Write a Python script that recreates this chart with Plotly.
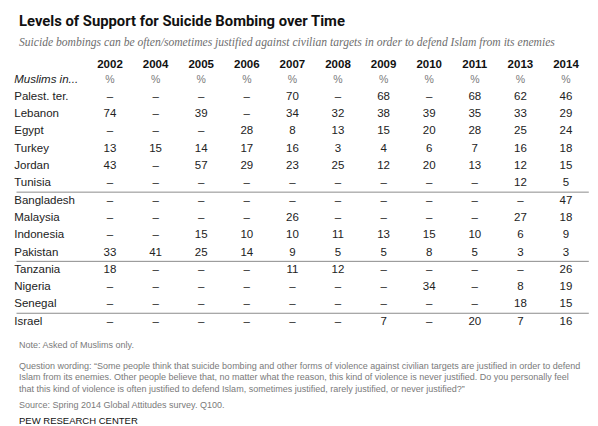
import plotly.graph_objects as go

# Table values ("None" = not asked that year)
years = ["2002", "2004", "2005", "2006", "2007", "2008", "2009", "2010", "2011", "2013", "2014"]
countries = [
    "Palest. ter.", "Lebanon", "Egypt", "Turkey", "Jordan", "Tunisia",
    "Bangladesh", "Malaysia", "Indonesia", "Pakistan",
    "Tanzania", "Nigeria", "Senegal", "Israel",
]
palest_ter = [None, None, None, None, 70, None, 68, None, 68, 62, 46]
lebanon = [74, None, 39, None, 34, 32, 38, 39, 35, 33, 29]
egypt = [None, None, None, 28, 8, 13, 15, 20, 28, 25, 24]
turkey = [13, 15, 14, 17, 16, 3, 4, 6, 7, 16, 18]
jordan = [43, None, 57, 29, 23, 25, 12, 20, 13, 12, 15]
tunisia = [None, None, None, None, None, None, None, None, None, 12, 5]
bangladesh = [None, None, None, None, None, None, None, None, None, None, 47]
malaysia = [None, None, None, None, 26, None, None, None, None, 27, 18]
indonesia = [None, None, 15, 10, 10, 11, 13, 15, 10, 6, 9]
pakistan = [33, 41, 25, 14, 9, 5, 5, 8, 5, 3, 3]
tanzania = [18, None, None, None, 11, 12, None, None, None, None, 26]
nigeria = [None, None, None, None, None, None, None, 34, None, 8, 19]
senegal = [None, None, None, None, None, None, None, None, None, 18, 15]
israel = [None, None, None, None, None, None, 7, None, 20, 7, 16]

rows = [palest_ter, lebanon, egypt, turkey, jordan, tunisia, bangladesh,
        malaysia, indonesia, pakistan, tanzania, nigeria, senegal, israel]
group_breaks = [5.5, 9.5, 12.5]  # lines between country groups

W, H = 598, 426
BODY = "Liberation Sans"
DARK = "#222222"
GREY = "#7a7a7a"

# flatten cells into one text trace
cell_x, cell_y, cell_text = [], [], []
for r, vals in enumerate(rows):
    for c, v in enumerate(vals):
        cell_x.append(c)
        cell_y.append(r)
        cell_text.append("–" if v is None else str(v))

fig = go.Figure()

fig.add_trace(go.Scatter(
    x=cell_x, y=cell_y, text=cell_text, mode="text",
    textfont=dict(family=BODY, size=11.5, color=DARK),
    hoverinfo="skip", showlegend=False,
))

# country labels
fig.add_trace(go.Scatter(
    x=[-2.1] * len(countries), y=list(range(len(countries))), text=countries,
    mode="text", textposition="middle right",
    textfont=dict(family=BODY, size=11.5, color=DARK),
    hoverinfo="skip", showlegend=False,
))

# header rows
fig.add_trace(go.Scatter(
    x=list(range(len(years))), y=[-1.83] * len(years),
    text=["<b>%s</b>" % y for y in years], mode="text",
    textfont=dict(family=BODY, size=11.5, color="#111111"),
    hoverinfo="skip", showlegend=False,
))
fig.add_trace(go.Scatter(
    x=list(range(len(years))), y=[-0.96] * len(years),
    text=["%"] * len(years), mode="text",
    textfont=dict(family=BODY, size=10.5, color=GREY),
    hoverinfo="skip", showlegend=False,
))
fig.add_trace(go.Scatter(
    x=[-2.1], y=[-0.96], text=["<i>Muslims in...</i>"],
    mode="text", textposition="middle right",
    textfont=dict(family=BODY, size=11.5, color=DARK),
    hoverinfo="skip", showlegend=False,
))

for yb in group_breaks:
    fig.add_shape(type="line", x0=-2.05, x1=10.5, y0=yb, y1=yb,
                  line=dict(color="#8c8c8c", width=1))


def note(text, ypx, size=9, color=GREY, family=BODY):
    fig.add_annotation(
        text=text, xref="paper", yref="paper", x=9 / W, y=1 - ypx / H,
        xanchor="left", yanchor="middle", showarrow=False,
        font=dict(family=family, size=size, color=color),
    )


note("<b>Levels of Support for Suicide Bombing over Time</b>", 13,
     size=14.8, color="#111111", family="Roboto")
note("<i>Suicide bombings can be often/sometimes justified against civilian "
     "targets in order to defend Islam from its enemies</i>", 34,
     size=11.6, color="#6e6e6e", family="Liberation Serif")
note("Note: Asked of Muslims only.", 337)
note("Question wording: “Some people think that suicide bombing and other forms "
     "of violence against civilian targets are justified in order to defend", 357.5)
note("Islam from its enemies. Other people believe that, no matter what the reason, "
     "this kind of violence is never justified. Do you personally feel", 369)
note("that this kind of violence is often justified to defend Islam, sometimes "
     "justified, rarely justified, or never justified?”", 380.5)
note("Source: Spring 2014 Global Attitudes survey. Q100.", 397)
note("PEW RESEARCH CENTER", 412, size=9.5, color="#111111")

fig.update_layout(
    width=W, height=H,
    margin=dict(l=0, r=0, t=0, b=0),
    paper_bgcolor="white", plot_bgcolor="white",
    xaxis=dict(range=[-102 / 45.6, (W - 102) / 45.6], visible=False, fixedrange=True),
    yaxis=dict(range=[(H - 89) / 17.3, -89 / 17.3], visible=False, fixedrange=True),
)

fig.write_html("out.html")
